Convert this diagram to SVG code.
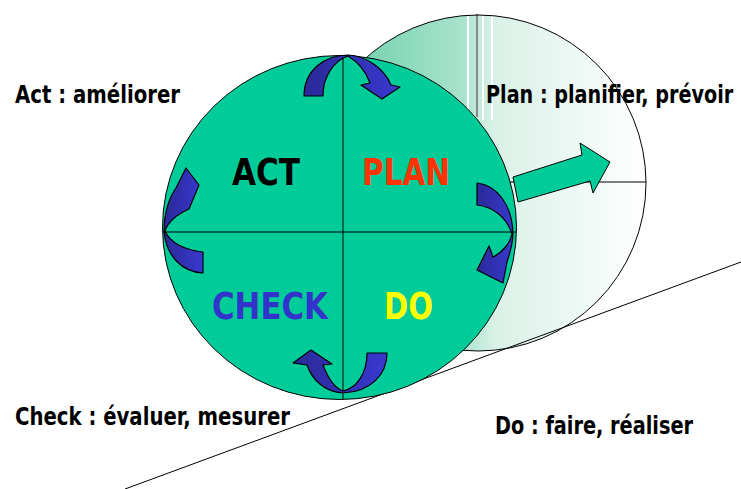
<svg xmlns="http://www.w3.org/2000/svg" width="741" height="489" viewBox="0 0 741 489">
<style>
.lbl{font-family:"DejaVu Sans Condensed","DejaVu Sans","Liberation Sans",sans-serif;font-stretch:condensed;font-weight:bold;font-size:25px;fill:#000}
.big{font-family:"DejaVu Sans Condensed","DejaVu Sans","Liberation Sans",sans-serif;font-stretch:condensed;font-weight:bold;font-size:38px}
.ln{stroke:#000;stroke-width:1;fill:none}
.blue{fill:url(#bg);stroke:#000;stroke-width:1.2;stroke-linejoin:round}
</style>
<defs>
<linearGradient id="wg" gradientUnits="userSpaceOnUse" x1="310" y1="0" x2="646" y2="0">
<stop offset="0" stop-color="#5ccba3"/>
<stop offset="0.45" stop-color="#a8e2cc"/>
<stop offset="0.55" stop-color="#d9f1e7"/>
<stop offset="1" stop-color="#ffffff"/>
</linearGradient>
<linearGradient id="bg" x1="0" y1="0" x2="1" y2="0">
<stop offset="0" stop-color="#2a2a98"/>
<stop offset="1" stop-color="#3838d0"/>
</linearGradient>
<clipPath id="bc"><circle cx="478" cy="183" r="168"/></clipPath>
<clipPath id="fc"><ellipse cx="339.5" cy="227.5" rx="177" ry="172"/></clipPath>
</defs>
<rect width="741" height="489" fill="#fff"/>
<g id="back-wheel">
<circle cx="478" cy="183" r="168" fill="url(#wg)"/>
<g clip-path="url(#bc)" stroke="#fff" stroke-width="2">
<line x1="468" y1="0" x2="468" y2="120"/>
<line x1="483" y1="0" x2="483" y2="120"/>
<line x1="492" y1="0" x2="492" y2="120"/>
</g>
<line x1="477" y1="14" x2="477" y2="117" stroke="#888" stroke-width="2"/>
<line x1="505" y1="182" x2="646" y2="182" class="ln"/>
<circle cx="478" cy="183" r="168" class="ln"/>
</g>
<g id="slope">
<line x1="125" y1="489" x2="741" y2="262" class="ln"/>
</g>
<g id="front-wheel">
<ellipse cx="339.5" cy="227.5" rx="177" ry="172" fill="#00cc99" stroke="#000" stroke-width="1"/>
<g clip-path="url(#fc)">
<line x1="343" y1="40" x2="343" y2="410" class="ln"/>
<line x1="150" y1="232" x2="530" y2="232" class="ln"/>
</g>
</g>
<g id="act"><text class="big" x="232" y="185" textLength="68" lengthAdjust="spacingAndGlyphs" fill="#000">ACT</text></g>
<g id="plan"><text class="big" x="362" y="185" textLength="88" lengthAdjust="spacingAndGlyphs" fill="#ff3300">PLAN</text></g>
<g id="check"><text class="big" x="212" y="319" textLength="116" lengthAdjust="spacingAndGlyphs" fill="#3333cc">CHECK</text></g>
<g id="do"><text class="big" x="384" y="319" textLength="49" lengthAdjust="spacingAndGlyphs" fill="#ffff00">DO</text></g>
<g id="connectors">
<path class="blue" d="M304,96 C304,70 325,55 348,55 C366,56 384,68 391,85 L400,87 L382,99 L361,85 L370,83 C366,72 358,62 348,56 C334,61 323,76 323,96 Z"/>
<path class="blue" d="M186,168 L199,185 L189,209 C178,214 168,222 165,231 C170,243 185,250 203,252 L203,273 C182,272 166,256 164,231 C164,212 170,196 176,188 Z"/>
<path class="blue" d="M477,183 C497,185 512,205 513,233 C513,243 510,253 507,262 L503,283 L477,270 L489,246 L493,257 C503,252 510,243 512,234 C507,218 494,207 477,205 Z"/>
<path class="blue" d="M387,353 C387,375 370,392 343,393 C325,392 312,380 307,365 L293,363 L311,350 L332,364 L323,365 C328,378 334,388 343,391 C357,388 367,373 367,353 Z"/>
<path d="M513,177 L582,155 L580,143 L610,162 L593,193 L590,181 L518,202 Z" fill="#00cc99" stroke="#000" stroke-width="1" stroke-linejoin="miter"/>
</g>
<g id="labels">
<text class="lbl" x="15" y="103" textLength="165" lengthAdjust="spacingAndGlyphs">Act : améliorer</text>
<text class="lbl" transform="translate(486,103) scale(0.8,1)" x="0" y="0" textLength="309" lengthAdjust="spacingAndGlyphs">Plan : planifier, prévoir</text>
<text class="lbl" x="15" y="425" textLength="275" lengthAdjust="spacingAndGlyphs">Check : évaluer, mesurer</text>
<text class="lbl" x="495" y="434" textLength="198" lengthAdjust="spacingAndGlyphs">Do : faire, réaliser</text>
</g>
</svg>
